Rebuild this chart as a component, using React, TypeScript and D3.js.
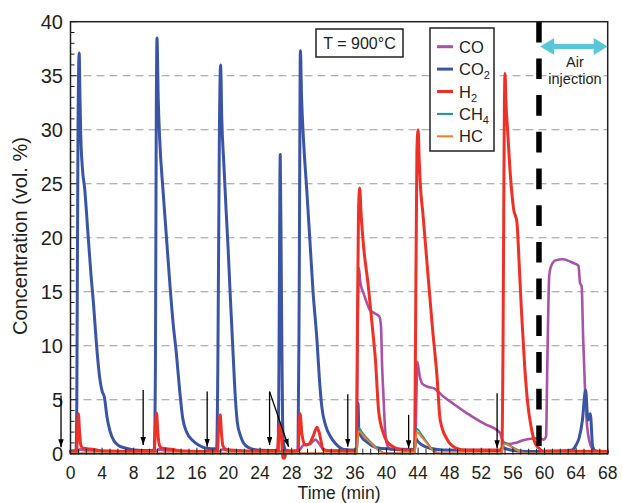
import React from "react";
import * as d3 from "d3";

type P = [number, number];

// ---- data (time in min, concentration in vol. %) ----
const co2: P[] = [
  [0, 0.25], [0.7, 0.3], [0.8, 5], [0.95, 30], [1.1, 37.1], [1.2, 33], [1.3, 29.5], [1.5, 26.5], [1.8, 24.5],
  [2.2, 20.5], [2.6, 16.5], [2.9, 14], [3.3, 10], [3.7, 7], [4.0, 5.8], [4.3, 5.2], [4.6, 3.5], [5.0, 2.1],
  [5.5, 1.2], [6.0, 0.8], [7.0, 0.5], [8.0, 0.35], [10.0, 0.3], [10.6, 0.35],
  [10.75, 8], [10.85, 30], [10.95, 38.5], [11.1, 33], [11.3, 29], [11.7, 24.5], [12.1, 20.5], [12.6, 15.5],
  [13.0, 12], [13.4, 9.3], [13.8, 6], [14.2, 3.3], [14.7, 2.0], [15.5, 1.2], [16.2, 0.8], [17.2, 0.5], [18.5, 0.45],
  [18.65, 8], [18.85, 30], [19.0, 36], [19.15, 31], [19.4, 27], [19.7, 22.5], [19.95, 19], [20.2, 15],
  [20.5, 10.5], [20.8, 6], [21.1, 3], [21.5, 1.7], [21.9, 1.0], [22.6, 0.55], [23.6, 0.35], [26.3, 0.3],
  [26.4, 10], [26.55, 27.7], [26.7, 15], [26.85, 3], [27.0, 0.8], [27.3, 0.3], [28.8, 0.25],
  [28.95, 15], [29.1, 37.3], [29.25, 33], [29.5, 29], [29.9, 24.5], [30.3, 19.8], [30.7, 15], [31.2, 10.5],
  [31.5, 7], [31.8, 4.4], [32.3, 2.6], [32.9, 1.6], [33.6, 0.9], [34.6, 0.4], [36.2, 0.35],
  [36.3, 2], [36.4, 4.7], [36.5, 2.2], [36.8, 1.6], [37.5, 1.1], [38.8, 0.55], [40, 0.45], [43.5, 0.4],
  [43.65, 1.5], [43.9, 1.2], [44.5, 0.8], [45.5, 0.5], [47, 0.35], [54.4, 0.3], [54.7, 0.6], [55, 0.5],
  [56, 0.3], [58, 0.2], [62, 0.25], [63.5, 0.35], [64.0, 0.8], [64.4, 1.5], [64.8, 3.1], [65.2, 5.9],
  [65.5, 3.1], [65.8, 3.7], [66.1, 0.65], [66.5, 0.25], [68, 0.2],
];

const h2: P[] = [
  [0, 0.15], [0.8, 0.2], [0.9, 2.5], [1.0, 3.7], [1.15, 2], [1.3, 0.8], [1.6, 0.5], [3, 0.4], [4, 0.25], [10.6, 0.2],
  [10.75, 2.5], [10.9, 3.75], [11.05, 2], [11.25, 0.8], [11.6, 0.5], [13, 0.4], [14, 0.25], [18.6, 0.2],
  [18.75, 2.5], [18.95, 3.6], [19.1, 2], [19.3, 0.7], [19.7, 0.4], [21, 0.3], [26.2, 0.2],
  [26.35, 2], [26.5, 2.8], [26.7, 1.5], [26.9, -0.4], [27.1, -0.4], [27.3, 0.2], [28.8, 0.25],
  [28.95, 2.5], [29.06, 3.7], [29.3, 1.8], [29.7, 0.8], [30.2, 0.9], [30.7, 1.6], [31.2, 2.45], [31.5, 1.9],
  [32.0, 0.4], [33, 0.25], [36.2, 0.25],
  [36.3, 10], [36.45, 22], [36.6, 24.6], [36.8, 22], [37.1, 19.2], [37.7, 15.5], [38.2, 11.8], [38.6, 8.7],
  [39.0, 4.0], [39.6, 1.9], [40.5, 0.8], [42.2, 0.35], [43.55, 0.35],
  [43.65, 8], [43.85, 28], [44.0, 30], [44.15, 27], [44.3, 24.7], [44.6, 22.3], [45.1, 17.9], [45.8, 11.8],
  [46.4, 7.1], [46.8, 3.1], [47.7, 1.3], [48.9, 0.5], [50, 0.35], [54.6, 0.35],
  [54.75, 10], [54.9, 30], [55.0, 35.2], [55.15, 32], [55.3, 30.3], [55.7, 25.6], [56.1, 22.6], [56.5, 21.5],
  [56.8, 17.5], [57.1, 13], [57.5, 8], [57.9, 4.5], [58.3, 2.5], [58.8, 1.0], [59.3, 0.5], [59.8, 0.25], [68, 0.2],
];

const co: P[] = [
  [0, 0.1], [0.9, 0.2], [1.2, 0.4], [2, 0.3], [10.8, 0.2], [11.2, 0.4], [12, 0.3], [18.8, 0.2], [19.3, 0.4],
  [20, 0.3], [26.4, 0.2], [27, 0.2], [28.9, 0.3], [29.5, 0.8], [30.3, 0.9], [31.0, 1.3], [31.5, 0.9],
  [32.2, 0.3], [36.2, 0.3],
  [36.3, 8], [36.5, 17.2], [36.7, 15.8], [37.1, 14.85], [37.5, 14], [37.9, 13.3], [38.5, 13], [39.1, 12.7],
  [39.3, 11.8], [39.45, 8], [39.6, 5.6], [39.8, 2.5], [40.0, 1.0], [40.5, 0.4], [43.6, 0.3],
  [43.75, 4], [43.9, 8.5], [44.2, 7.2], [44.5, 6.5], [45.2, 6.2], [46.0, 6.05], [47.2, 5.3], [48.5, 4.6],
  [50.2, 3.74], [52.3, 2.8], [54.4, 1.9], [54.6, 1.4], [55.0, 1.0], [55.5, 0.9], [56.3, 1.0], [57.4, 1.27],
  [58.5, 1.4], [59.3, 1.45], [59.9, 1.3], [60.2, 1.6],
  [60.35, 8], [60.6, 16.5], [60.8, 17.3], [61.4, 17.9], [62.3, 18.0], [62.9, 17.9], [63.5, 17.7], [64.3, 17.4],
  [64.5, 15.8], [64.7, 15.5], [64.9, 10.5], [65.1, 6.5], [65.4, 2.5], [65.9, 0.65], [66.5, 0.2], [68, 0.15],
];

const ch4: P[] = [
  [0, 0], [36.25, 0], [36.35, 1.5], [36.5, 2.4], [37, 1.9], [38, 1.1], [39, 0.4], [39.8, 0.05], [43.6, 0],
  [43.7, 1.5], [43.85, 2.3], [44.5, 1.7], [45.3, 0.9], [46.2, 0.15], [47, 0], [54.6, 0], [54.75, 0.8],
  [55, 1.0], [56, 0.6], [57.5, 0.1], [58.5, 0], [68, 0],
];

const hc: P[] = [
  [0, 0.05], [36.25, 0.05], [36.35, 1.3], [36.5, 2.1], [37, 1.7], [38, 1.0], [39, 0.3], [39.8, 0.05],
  [43.6, 0.05], [43.7, 1.3], [43.85, 2.0], [44.5, 1.5], [45.3, 0.8], [46.2, 0.1], [47, 0.05], [54.6, 0.05],
  [54.75, 0.7], [55, 0.9], [56, 0.55], [57.5, 0.05], [68, 0.05],
];

const xTickLabels = d3.range(0, 69, 4);
const yTickLabels = d3.range(0, 41, 5);
const gridValues = [5, 10, 15, 20, 25, 30, 35];

// downward arrows [t0, c0, t1, c1]
const arrows: [number, number, number, number][] = [
  [-1.2, 5.4, -1.2, 0.6],
  [9.2, 5.9, 9.2, 0.8],
  [17.3, 5.75, 17.3, 0.65],
  [25.2, 5.75, 25.2, 0.8],
  [25.2, 5.75, 27.6, 0.65],
  [35.1, 5.5, 35.1, 0.65],
  [42.8, 3.6, 42.8, 0.5],
  [54.0, 5.6, 54.0, 0.5],
];
const airTime = 59.3;
const airArrow: [number, number, number] = [59.45, 68, 37.7];

const legendItems = [
  { name: "CO", sub: "", color: "#a952a8" },
  { name: "CO", sub: "2", color: "#3a55a5" },
  { name: "H", sub: "2", color: "#ee3026" },
  { name: "CH", sub: "4", color: "#1c968b" },
  { name: "HC", sub: "", color: "#f47b29" },
];

const FONT = "'Liberation Sans', Arial, Helvetica, sans-serif";
const TXT = "#231f20";

export default function App() {
  const W = 622, H = 503;
  const x = d3.scaleLinear().domain([0, 68]).range([70.5, 607.7]);
  const y = d3.scaleLinear().domain([0, 40]).range([453.7, 21.7]);
  const line = d3.line<P>().x((d) => x(d[0])).y((d) => y(d[1])).curve(d3.curveMonotoneX);

  const series = [
    { data: co, color: "#a952a8", w: 2.6 },
    { data: co2, color: "#3a55a5", w: 3 },
    { data: h2, color: "#ee3026", w: 3 },
    { data: ch4, color: "#1c968b", w: 1.6 },
    { data: hc, color: "#f47b29", w: 1.8 },
  ];

  const x0 = x(0), x1 = x(68), yTop = y(40), yBot = y(0);
  const minorX = d3.range(0, 69, 1);
  const minorY = d3.range(0, 41, 1);
  const [aT0, aT1, aC] = airArrow;
  const ax0 = x(aT0), ax1 = x(aT1), ay = y(aC);

  return (
    <div style={{ position: "fixed", left: 0, top: 0 }}>
      <svg width={W} height={H} style={{ display: "block", background: "#fff" }} fontFamily={FONT}>
        <defs>
          <marker id="ah" viewBox="0 0 10 10" refX="10" refY="5" markerUnits="userSpaceOnUse"
            markerWidth="8" markerHeight="5.5" orient="auto" preserveAspectRatio="none">
            <path d="M0,0 L10,5 L0,10 z" fill="#000" />
          </marker>
        </defs>

        {/* grid */}
        {gridValues.map((v) => (
          <line key={v} x1={x0} x2={x1} y1={y(v)} y2={y(v)} stroke="#9a9a9a" strokeWidth={1.1} strokeDasharray="8 5" />
        ))}

        {/* series */}
        {series.map((s, i) => (
          <path key={i} d={line(s.data) || ""} fill="none" stroke={s.color} strokeWidth={s.w}
            strokeLinejoin="round" strokeLinecap="round" />
        ))}

        {/* air injection dashed line */}
        <line x1={x(airTime)} x2={x(airTime)} y1={yTop} y2={yBot} stroke="#000" strokeWidth={5.5} strokeDasharray="20.7 16" />

        {/* frame */}
        <rect x={x0} y={yTop} width={x1 - x0} height={yBot - yTop} fill="none" stroke="#231f20" strokeWidth={1.5} />

        {/* y ticks */}
        {minorY.map((v) => (
          <line key={"yt" + v} x1={x0} x2={x0 + (v % 5 === 0 ? 6 : 4)} y1={y(v)} y2={y(v)} stroke="#231f20" strokeWidth={1} />
        ))}
        {/* x ticks */}
        {minorX.map((v) => (
          <line key={"xt" + v} x1={x(v)} x2={x(v)} y1={yBot + 1} y2={yBot - (v % 4 === 0 ? 6 : 5)} stroke="#231f20" strokeWidth={1} />
        ))}

        {/* tick labels */}
        {yTickLabels.map((v) => (
          <text key={"yl" + v} x={63} y={y(v)} dy="0.36em" textAnchor="end" fontSize={20} fill={TXT}>{v}</text>
        ))}
        {xTickLabels.map((v) => (
          <text key={"xl" + v} x={x(v)} y={479} textAnchor="middle" fontSize={17.5} fill={TXT}>{v}</text>
        ))}

        {/* axis titles */}
        <text x={(x0 + x1) / 2} y={498.5} textAnchor="middle" fontSize={17.5} fill={TXT}>Time (min)</text>
        <text transform={`translate(27,236) rotate(-90)`} textAnchor="middle" fontSize={20} fill={TXT}>
          Concentration (vol. %)
        </text>

        {/* arrows */}
        {arrows.map((a, i) => (
          <line key={"ar" + i} x1={x(a[0])} y1={y(a[1])} x2={x(a[2])} y2={y(a[3])} stroke="#000" strokeWidth={1.3}
            markerEnd="url(#ah)" />
        ))}

        {/* temperature box */}
        <rect x={316} y={29} width={87} height={28} fill="#fff" stroke="#231f20" strokeWidth={1.5} />
        <text x={359.5} y={49} textAnchor="middle" fontSize={16} fill={TXT}>T = 900°C</text>

        {/* legend */}
        <rect x={430} y={28} width={64} height={123} fill="#fff" stroke="#231f20" strokeWidth={1.5} />
        {legendItems.map((it, i) => {
          const cy = 46.7 + i * 22.4;
          return (
            <g key={"lg" + i}>
              <line x1={437} x2={453} y1={cy} y2={cy} stroke={it.color} strokeWidth={i >= 3 ? 2 : 3} />
              <text x={459} y={cy + 6} fontSize={16.5} fill={TXT}>
                {it.name}
                {it.sub ? <tspan fontSize={11} dy={4}>{it.sub}</tspan> : null}
              </text>
            </g>
          );
        })}

        {/* air injection double arrow */}
        <g fill="#5ac6da" stroke="none">
          <rect x={ax0 + 12} y={ay - 2.6} width={ax1 - ax0 - 24} height={5.2} />
          <path d={`M${ax0},${ay} L${ax0 + 14},${ay - 8.5} L${ax0 + 14},${ay + 8.5} Z`} />
          <path d={`M${ax1},${ay} L${ax1 - 14},${ay - 8.5} L${ax1 - 14},${ay + 8.5} Z`} />
        </g>
        <text x={(ax0 + ax1) / 2 + 1} y={67} textAnchor="middle" fontSize={14.5} fill={TXT}>Air</text>
        <text x={(ax0 + ax1) / 2 + 1} y={84} textAnchor="middle" fontSize={14.5} fill={TXT}>injection</text>
      </svg>
    </div>
  );
}
